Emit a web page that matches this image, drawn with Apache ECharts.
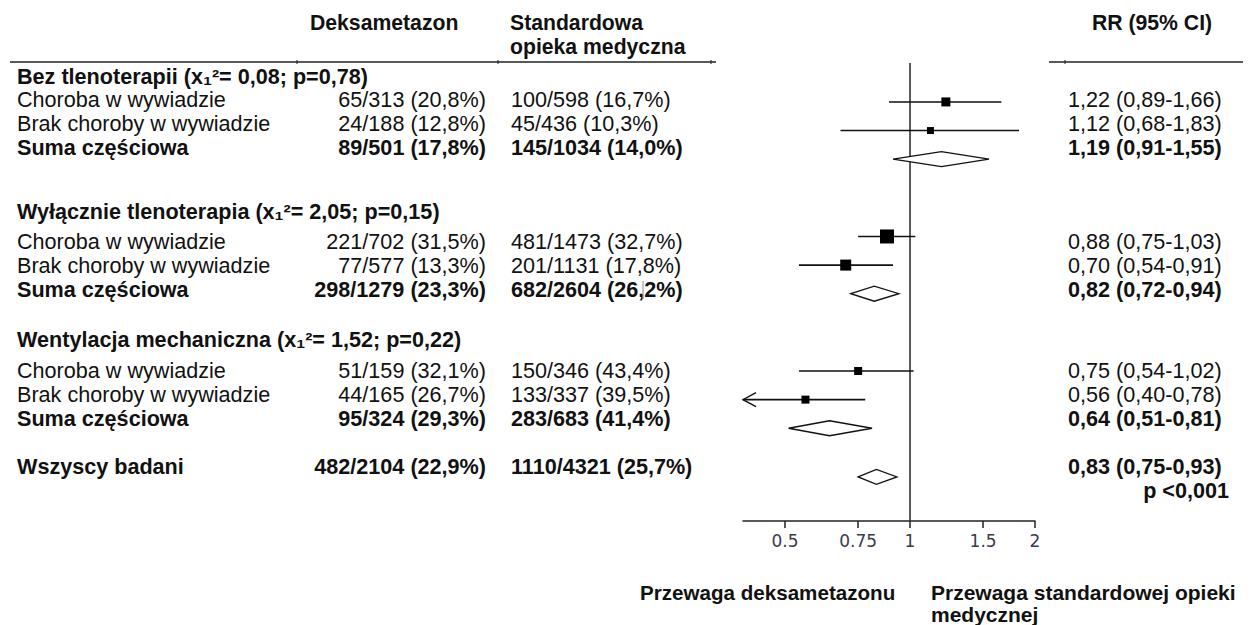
<!DOCTYPE html>
<html>
<head>
<meta charset="utf-8">
<script src="https://cdn.jsdelivr.net/npm/echarts@6/dist/echarts.min.js"></script>
<style>html,body{margin:0;padding:0;background:#fff}#c{width:1253px;height:625px}</style>
</head>
<body>
<div id="c"></div>
<script>
// ---- data ----
const groupHeaders = ['Bez tlenoterapii (x\u2081\u00b2= 0,08; p=0,78)', 'Wyłącznie tlenoterapia (x\u2081\u00b2= 2,05; p=0,15)', 'Wentylacja mechaniczna (x\u2081\u00b2= 1,52; p=0,22)'];
const rowLabels = ['Choroba w wywiadzie', 'Brak choroby w wywiadzie', 'Suma częściowa',
  'Choroba w wywiadzie', 'Brak choroby w wywiadzie', 'Suma częściowa',
  'Choroba w wywiadzie', 'Brak choroby w wywiadzie', 'Suma częściowa', 'Wszyscy badani'];
const dexaVals = ['65/313 (20,8%)', '24/188 (12,8%)', '89/501 (17,8%)', '221/702 (31,5%)', '77/577 (13,3%)', '298/1279 (23,3%)', '51/159 (32,1%)', '44/165 (26,7%)', '95/324 (29,3%)', '482/2104 (22,9%)'];
const stdVals = ['100/598 (16,7%)', '45/436 (10,3%)', '145/1034 (14,0%)', '481/1473 (32,7%)', '201/1131 (17,8%)', '682/2604 (26,2%)', '150/346 (43,4%)', '133/337 (39,5%)', '283/683 (41,4%)', '1110/4321 (25,7%)'];
const rrText = ['1,22 (0,89-1,66)', '1,12 (0,68-1,83)', '1,19 (0,91-1,55)', '0,88 (0,75-1,03)', '0,70 (0,54-0,91)', '0,82 (0,72-0,94)', '0,75 (0,54-1,02)', '0,56 (0,40-0,78)', '0,64 (0,51-0,81)', '0,83 (0,75-0,93)'];
const rr = [1.22, 1.12, 1.19, 0.88, 0.70, 0.82, 0.75, 0.56, 0.64, 0.83];
const lo = [0.89, 0.68, 0.91, 0.75, 0.54, 0.72, 0.54, 0.40, 0.51, 0.75];
const hi = [1.66, 1.83, 1.55, 1.03, 0.91, 0.94, 1.02, 0.78, 0.81, 0.93];
const isSummary = [0, 0, 1, 0, 0, 1, 0, 0, 1, 1];
const weights = [9, 7, 0, 14, 11, 0, 8, 8, 0, 0];
const truncatedLeft = [0, 0, 0, 0, 0, 0, 0, 1, 0, 0];
const rowPos = [0, 1, 2, 4.7, 5.7, 6.7, 9.4, 10.4, 11.4, 13.1];
const tickValues = [0.5, 0.75, 1, 1.5, 2];
const tickLabels = ['0.5', '0.75', '1', '1.5', '2'];
const pText = 'p <0,001';
const headDexa = 'Deksametazon';
const headStd = ['Standardowa', 'opieka medyczna'];
const headRR = 'RR (95% CI)';
const favourLeft = 'Przewaga deksametazonu';
const favourRight = ['Przewaga standardowej opieki', 'medycznej'];

// ---- layout ----
const X_MIN = 0.396, X_MAX = 2, Y_MIN = -1.36, Y_MAX = 14.64;
const FF = '"Liberation Sans", Arial, sans-serif';
const FS = 21.6;
const textRowY = [99, 123.5, 147.5, 241, 265, 289, 370, 394, 418, 466];
const headerY = [76, 211, 339];
const C = '#111';

const chart = echarts.init(document.getElementById('c'), null, { renderer: 'svg' });

const g = [];
function txt(s, x, y, bold, align, size) {
  g.push({ type: 'text', x: x, y: y, silent: true, style: { text: s, fill: C, font: (bold ? 'bold ' : '') + (size || FS) + 'px ' + FF, textAlign: align || 'left', textVerticalAlign: 'middle' } });
}
function ln(x1, y1, x2, y2, w, col) {
  g.push({ type: 'line', silent: true, shape: { x1, y1, x2, y2 }, style: { stroke: col || '#222', lineWidth: w || 1.3 } });
}
// headers
txt(headDexa, 310, 22, true, 'left', 21.2);
g.push({ type: 'text', x: 510, y: 10, silent: true, style: { text: headStd.join('\n'), fill: C, font: 'bold 21.2px ' + FF, lineHeight: 24, textAlign: 'left', textVerticalAlign: 'top' } });
txt(headRR, 1092, 22, true, 'left', 21.2);
// top rules
ln(10, 62, 716, 62); ln(297, 60, 297, 64, 1); ln(498, 60, 498, 64, 1); ln(711, 60, 711, 64, 1);
ln(1049, 62, 1243, 62); ln(1065, 60, 1065, 64, 1);
// group headers
groupHeaders.forEach((h, i) => txt(h, 17, headerY[i], true));
// rows
rowLabels.forEach((l, i) => {
  const b = !!isSummary[i];
  const y = textRowY[i];
  txt(l, 17, y, b);
  txt(dexaVals[i], 486, y, b, 'right');
  txt(stdVals[i], 511, y, b);
  txt(rrText[i], 1068, y, b);
});
txt(pText, 1229, 490, true, 'right');
// small artifact line in "2|6,2%"
ln(643, 281, 643, 299, 1, '#888');
// bottom labels
txt(favourLeft, 640, 592, true, 'left', 20.6);
g.push({ type: 'text', x: 931, y: 581, silent: true, style: { text: favourRight.join('\n'), fill: C, font: 'bold 21px ' + FF, lineHeight: 22, textAlign: 'left', textVerticalAlign: 'top' } });

const data = rr.map((v, i) => [v, lo[i], hi[i], rowPos[i], weights[i], isSummary[i], truncatedLeft[i]]);

chart.setOption({
  animation: false,
  grid: { left: 743, right: 218, top: 63, bottom: 104 },
  xAxis: {
    type: 'log', logBase: 2, min: X_MIN, max: X_MAX,
    axisLine: { show: true, onZero: false, lineStyle: { color: '#222', width: 1.5 } },
    axisTick: { show: true, length: 7, lineStyle: { color: '#222', width: 1.5 }, customValues: tickValues },
    axisLabel: { customValues: tickValues, margin: 11, color: '#3a3a4a', fontSize: 17, fontFamily: '"DejaVu Sans", sans-serif',
      formatter: v => { const k = tickValues.findIndex(t => Math.abs(t - v) < 1e-6); return k >= 0 ? tickLabels[k] : ''; } },
    splitLine: { show: false }, minorTick: { show: false }
  },
  yAxis: { type: 'value', inverse: true, min: Y_MIN, max: Y_MAX, show: false },
  series: [
    {
      type: 'line', data: [[1, Y_MIN], [1, Y_MAX]], symbol: 'none',
      lineStyle: { color: '#333', width: 1.6 }, silent: true, z: 1
    },
    {
      type: 'custom', data: data, z: 3, silent: true,
      encode: { x: [0, 1, 2], y: 3 },
      renderItem: function (params, api) {
        const v = api.value(0), l = api.value(1), h = api.value(2), y = api.value(3);
        const w = api.value(4), summ = api.value(5), trunc = api.value(6);
        const pc = api.coord([v, y]);
        const ph = api.coord([h, y]);
        const children = [];
        if (summ) {
          const plo = api.coord([l, y]);
          const dh = 7.5;
          children.push({ type: 'polygon', shape: { points: [[plo[0], pc[1]], [pc[0], pc[1] - dh], [ph[0], pc[1]], [pc[0], pc[1] + dh]] },
            style: { fill: '#fff', stroke: '#111', lineWidth: 1.3 } });
        } else {
          const plo = api.coord([trunc ? X_MIN : l, y]);
          children.push({ type: 'line', shape: { x1: plo[0], y1: pc[1], x2: ph[0], y2: pc[1] }, style: { stroke: '#111', lineWidth: 1.6 } });
          if (trunc) {
            children.push({ type: 'polyline', shape: { points: [[plo[0] + 13, pc[1] - 7], [plo[0], pc[1]], [plo[0] + 13, pc[1] + 7]] }, style: { stroke: '#111', lineWidth: 1.4, fill: 'none' } });
          }
          children.push({ type: 'rect', shape: { x: pc[0] - w / 2, y: pc[1] - w / 2, width: w, height: w }, style: { fill: '#000' } });
        }
        return { type: 'group', children: children };
      }
    }
  ],
  graphic: g
});
</script>
</body>
</html>
